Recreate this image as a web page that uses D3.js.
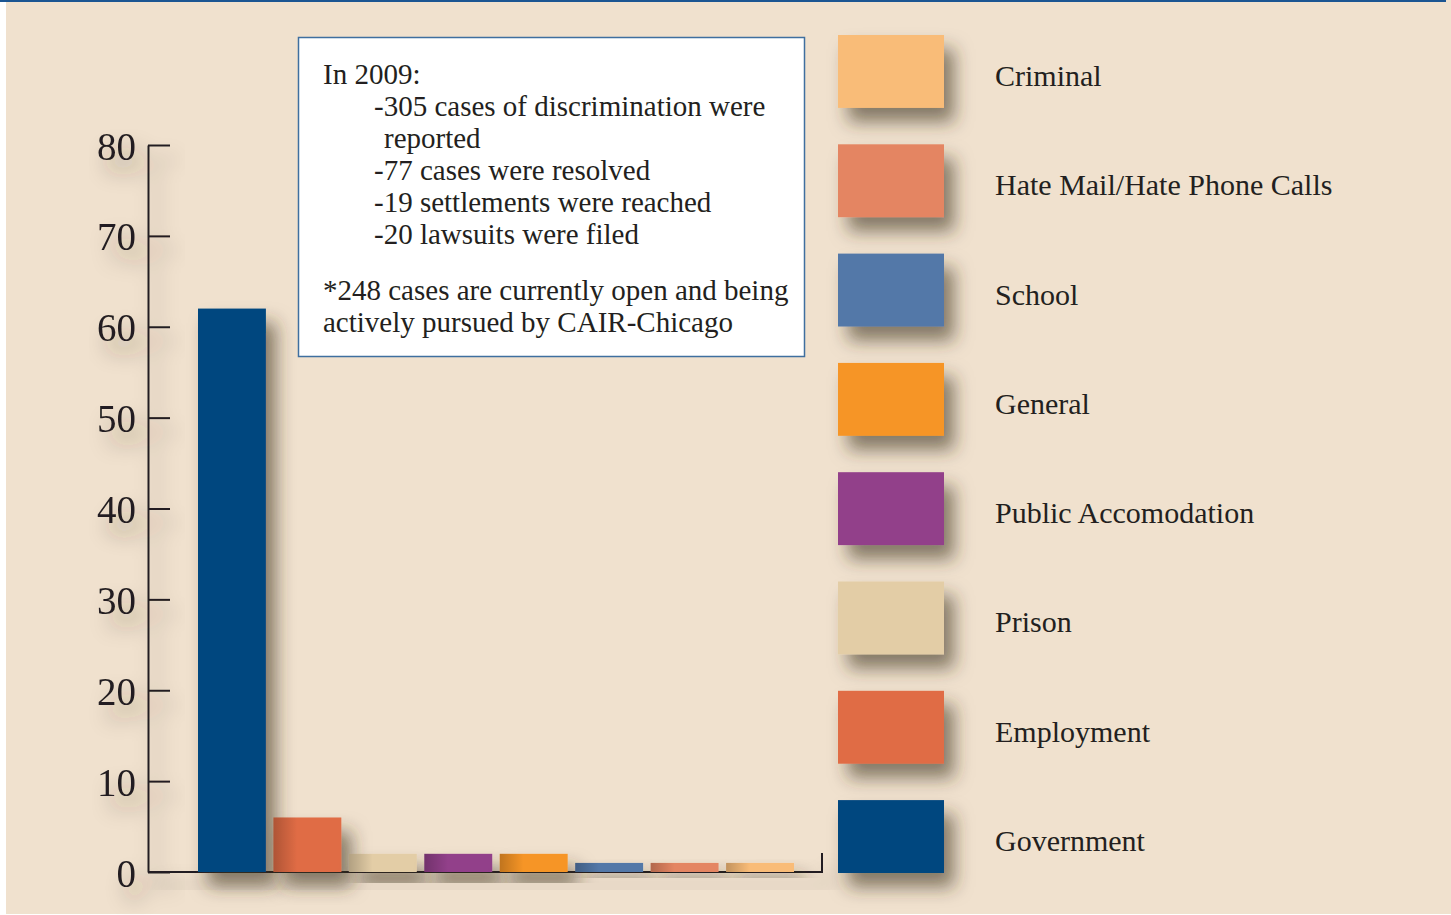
<!DOCTYPE html>
<html>
<head>
<meta charset="utf-8">
<script src="https://cdn.jsdelivr.net/npm/d3@7"></script>
<style>
  html, body { margin: 0; padding: 0; background: #fff; }
  svg { display: block; }
  text { font-family: "Liberation Serif", "DejaVu Serif", serif; fill: #231f20; }
</style>
</head>
<body>
<div id="chart"></div>
<script>
// bar data (left to right)
const categories = ["Government", "Employment", "Prison", "Public Accomodation", "General", "School", "Hate Mail/Hate Phone Calls", "Criminal"];
const counts = [62, 6, 2, 2, 2, 1, 1, 1];
const colors = ["#00477f", "#e06c45", "#e3cda6", "#923f8a", "#f69526", "#5278a8", "#e48562", "#f9bc78"];
const yTicks = [0, 10, 20, 30, 40, 50, 60, 70, 80];

const noteLines = [
  {text: "In 2009:", indent: 0},
  {text: "-305 cases of discrimination were", indent: 51},
  {text: "reported", indent: 61},
  {text: "-77 cases were resolved", indent: 51},
  {text: "-19 settlements were reached", indent: 51},
  {text: "-20 lawsuits were filed", indent: 51},
  {text: "*248 cases are currently open and being", indent: 0, gap: 24},
  {text: "actively pursued by CAIR-Chicago", indent: 0}
];

const W = 1451, H = 915;

const svg = d3.select("#chart").append("svg")
  .attr("width", W)
  .attr("height", H);

const defs = svg.append("defs");

// blurred drop shadow like the print piece
const shadow = defs.append("filter")
  .attr("id", "shadow")
  .attr("x", "-40%").attr("y", "-40%")
  .attr("width", "200%").attr("height", "200%");
shadow.append("feDropShadow")
  .attr("dx", 10).attr("dy", 14)
  .attr("stdDeviation", 9)
  .attr("flood-color", "#3b3020")
  .attr("flood-opacity", 0.6);

const axisShadow = defs.append("filter")
  .attr("id", "axisShadow")
  .attr("x", "-10%").attr("y", "-10%")
  .attr("width", "130%").attr("height", "200%");
axisShadow.append("feDropShadow")
  .attr("dx", 8).attr("dy", 14)
  .attr("stdDeviation", 10)
  .attr("flood-color", "#3b3020")
  .attr("flood-opacity", 0.4);

// soft dark edge on the left side of bars
const shade = defs.append("linearGradient")
  .attr("id", "shade")
  .attr("x1", "0").attr("x2", "1").attr("y1", "0").attr("y2", "0");
shade.append("stop").attr("offset", "0").attr("stop-color", "#000").attr("stop-opacity", 0.22);
shade.append("stop").attr("offset", "0.35").attr("stop-color", "#000").attr("stop-opacity", 0);

// page background
svg.append("rect")
  .attr("x", 6).attr("y", 0)
  .attr("width", W - 6).attr("height", H - 1)
  .attr("fill", "#f0e1ce");
svg.append("rect")
  .attr("x", 0).attr("y", 0)
  .attr("width", 1446).attr("height", 2)
  .attr("fill", "#1b5592");

// scales
const y = d3.scaleLinear()
  .domain([0, 80])
  .range([872, 145]);

const x = d3.scaleBand()
  .domain(categories)
  .range([198, 794])
  .paddingInner(0.1);

// y axis, ticks pointing right
const yAxis = svg.append("g")
  .attr("transform", "translate(148,0)")
  .attr("filter", "url(#axisShadow)")
  .call(d3.axisLeft(y).tickValues(yTicks).tickSize(-22).tickSizeOuter(0).tickPadding(12));
yAxis.select(".domain").attr("stroke", "#231f20").attr("stroke-width", 2);
yAxis.selectAll(".tick line").attr("stroke", "#231f20").attr("stroke-width", 2);
yAxis.selectAll(".tick text")
  .attr("font-family", "Liberation Serif, serif")
  .attr("font-size", 39)
  .attr("fill", "#231f20")
  .attr("dy", "0.36em");

// x axis baseline with end tick
const xEnd = x.range()[1] + 28;
svg.append("path")
  .attr("d", d3.line()([[148, y(0)], [xEnd, y(0)], [xEnd, y(0) - 19]]))
  .attr("fill", "none")
  .attr("stroke", "#231f20")
  .attr("stroke-width", 2)
  .attr("filter", "url(#axisShadow)");

// bars
const bars = svg.append("g");
bars.selectAll("rect.bar")
  .data(categories)
  .enter()
  .append("rect")
    .attr("class", "bar")
    .attr("x", d => x(d))
    .attr("y", (d, i) => y(counts[i]))
    .attr("width", x.bandwidth())
    .attr("height", (d, i) => y(0) - y(counts[i]))
    .attr("fill", (d, i) => colors[i])
    .attr("filter", "url(#shadow)");

bars.selectAll("rect.shade")
  .data(categories.slice(1))
  .enter()
  .append("rect")
    .attr("class", "shade")
    .attr("x", d => x(d))
    .attr("y", d => y(counts[categories.indexOf(d)]))
    .attr("width", x.bandwidth())
    .attr("height", d => y(0) - y(counts[categories.indexOf(d)]))
    .attr("fill", "url(#shade)");

// legend, top to bottom is reverse of bars
const legendOrder = categories.slice().reverse();
const ly = d3.scaleBand()
  .domain(legendOrder)
  .range([35, 873])
  .paddingInner(0.333);

const legend = svg.append("g");
const item = legend.selectAll("g")
  .data(legendOrder)
  .enter()
  .append("g")
    .attr("transform", d => "translate(0," + ly(d) + ")");

item.append("rect")
  .attr("x", 838)
  .attr("width", 106)
  .attr("height", ly.bandwidth())
  .attr("fill", d => colors[categories.indexOf(d)])
  .attr("filter", "url(#shadow)");

item.append("text")
  .attr("x", 995)
  .attr("y", 51)
  .attr("font-size", 30)
  .text(d => d);

// note box
const note = svg.append("g").attr("transform", "translate(298,37)");
note.append("rect")
  .attr("x", 0.5).attr("y", 0.5)
  .attr("width", 506).attr("height", 319)
  .attr("fill", "#fff")
  .attr("stroke", "#3f6f9f")
  .attr("stroke-width", 1.5);

let lineY = 47;
note.selectAll("text")
  .data(noteLines)
  .enter()
  .append("text")
    .attr("x", d => 25 + d.indent)
    .attr("y", d => {
      lineY += (d.gap || 0);
      const cur = lineY;
      lineY += 32;
      return cur;
    })
    .attr("font-size", 29)
    .text(d => d.text);
</script>
</body>
</html>
